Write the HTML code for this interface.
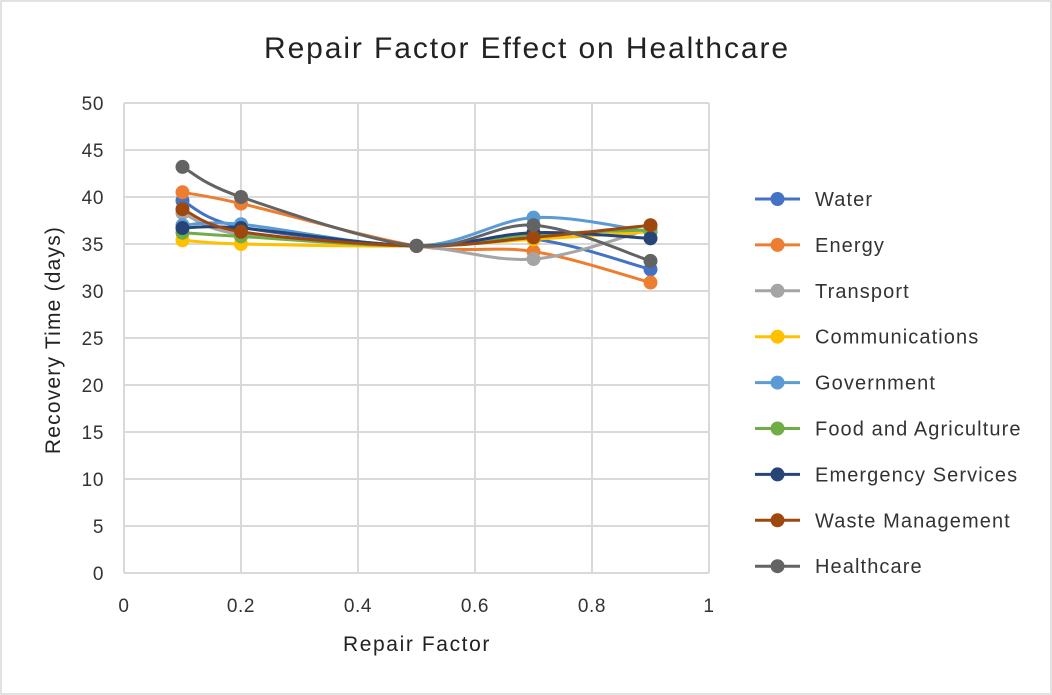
<!DOCTYPE html>
<html><head><meta charset="utf-8"><style>
body{margin:0;background:#fff;}
svg{display:block;font-family:"Liberation Sans",sans-serif;}
</style></head><body>
<svg id="c" width="1052" height="695">
<rect x="1" y="1" width="1050" height="693" fill="#fff" stroke="#d9d9d9" stroke-width="1.5"/>
<text x="527" y="58" text-anchor="middle" font-size="30" letter-spacing="1.9" fill="#222">Repair Factor Effect on Healthcare</text>
<g id="grid"></g><g id="series"></g><g id="legend"></g>
<text x="417" y="651" text-anchor="middle" font-size="21" letter-spacing="1.6" fill="#222">Repair Factor</text>
<text transform="translate(60,340) rotate(-90)" text-anchor="middle" font-size="21" letter-spacing="1.2" fill="#222">Recovery Time (days)</text>
</svg>
<script>
const xs=[0.1,0.2,0.5,0.7,0.9];
const names=["Water","Energy","Transport","Communications","Government","Food and Agriculture","Emergency Services","Waste Management","Healthcare"];
const colors=["#4472c4","#ed7d31","#a5a5a5","#ffc000","#5b9bd5","#70ad47","#264478","#9e480e","#636363"];
const water=[39.6,36.8,34.8,35.5,32.3];
const energy=[40.5,39.3,34.8,34.2,30.9];
const transport=[38.3,36.0,34.8,33.4,36.6];
const comms=[35.4,35.0,34.8,35.5,36.3];
const government=[37.0,37.1,34.8,37.8,36.3];
const food=[36.2,35.8,34.8,36.0,36.5];
const emergency=[36.7,36.7,34.8,36.2,35.6];
const waste=[38.7,36.3,34.8,35.7,37.0];
const healthcare=[43.2,40.0,34.8,37.0,33.2];
const seriesVals=[water,energy,transport,comms,government,food,emergency,waste,healthcare];
const xTicks=[0,0.2,0.4,0.6,0.8,1];
const yTicks=[0,5,10,15,20,25,30,35,40,45,50];
const X=v=>124+v*585, Y=v=>573-v*9.4;
const NS="http://www.w3.org/2000/svg";
function mk(t,a,p){const e=document.createElementNS(NS,t);for(const k in a)e.setAttribute(k,a[k]);p.appendChild(e);return e;}
const g=document.getElementById('grid');
xTicks.forEach(t=>{
 const l=mk('line',{x1:X(t),x2:X(t),y1:Y(50),y2:Y(0),stroke:'#d9d9d9','stroke-width':2},g);
 
 
 const tx=mk('text',{x:X(t),y:612,'text-anchor':'middle','font-size':19,'letter-spacing':0.6,fill:'#333'},g);tx.textContent=t;
 
 
});
yTicks.forEach(t=>{
 const l=mk('line',{x1:X(0),x2:X(1),y1:Y(t),y2:Y(t),stroke:'#d9d9d9','stroke-width':2},g);
 
 
 const tx=mk('text',{x:104,y:Y(t)+7,'text-anchor':'end','font-size':19,'letter-spacing':0.6,fill:'#333'},g);tx.textContent=t;
 
 
});
const s=document.getElementById('series');
seriesVals.forEach((vals,i)=>{
 const P=vals.map((v,j)=>[X(xs[j]),Y(v)]);
 let d=`M${P[0][0]},${P[0][1]}`;
 for(let j=0;j<P.length-1;j++){
  const p0=P[j-1]||P[j],p1=P[j],p2=P[j+1],p3=P[j+2]||P[j+1];
  const c1=[p1[0]+(p2[0]-p0[0])/6,p1[1]+(p2[1]-p0[1])/6];
  const c2=[p2[0]-(p3[0]-p1[0])/6,p2[1]-(p3[1]-p1[1])/6];
  d+=` C${c1[0]},${c1[1]} ${c2[0]},${c2[1]} ${p2[0]},${p2[1]}`;
 }
 const gr=mk('g',{},s);
 
 
 const path=mk('path',{d:d,fill:'none',stroke:colors[i],'stroke-width':3},gr);
 
 
 P.forEach(p=>{const c=mk('circle',{cx:p[0],cy:p[1],r:7,fill:colors[i]},gr);
  
  });
});
const lg=document.getElementById('legend');
names.forEach((n,i)=>{
 const y=199+i*45.9;
 const gr=mk('g',{},lg);
 
 
 mk('line',{x1:755,x2:800,y1:y,y2:y,stroke:colors[i],'stroke-width':3},gr);
 mk('circle',{cx:777.5,cy:y,r:7,fill:colors[i]},gr);
 const t=mk('text',{x:815,y:y+7,'font-size':20,'letter-spacing':1.1,fill:'#333'},gr);t.textContent=n;
});
</script>
</body></html>
